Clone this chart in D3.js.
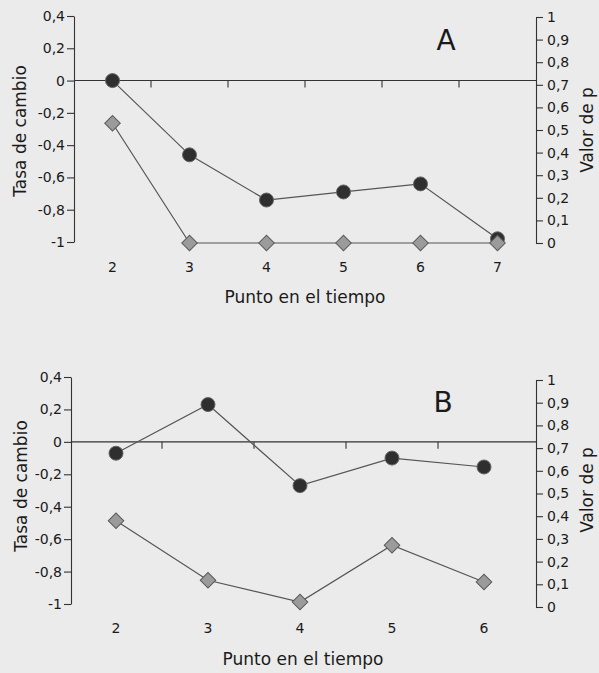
<!DOCTYPE html>
<html>
<head>
<meta charset="utf-8">
<script src="https://cdn.jsdelivr.net/npm/d3@7"></script>
<style>
  body { margin: 0; background: #ebebeb; }
  svg { display: block; }
  text { font-family: "DejaVu Sans", Arial, sans-serif; fill: #1a1a1a; }
</style>
</head>
<body>
<div id="chart"></div>
<script>
// panel A
var pointsA = [2, 3, 4, 5, 6, 7],
    tasaA = [0, -0.46, -0.74, -0.69, -0.64, -0.98],
    pA = [0.53, 0, 0, 0, 0, 0];

// panel B
var pointsB = [2, 3, 4, 5, 6],
    tasaB = [-0.07, 0.23, -0.27, -0.10, -0.155],
    pB = [0.38, 0.118, 0.022, 0.272, 0.11];

var leftTicks = [0.4, 0.2, 0, -0.2, -0.4, -0.6, -0.8, -1],
    rightTicks = [0, 0.1, 0.2, 0.3, 0.4, 0.5, 0.6, 0.7, 0.8, 0.9, 1];

var locale = d3.formatLocale({decimal: ",", thousands: ".", grouping: [3], currency: ["", ""], minus: "-"}),
    fmt = function(d) { return locale.format("~g")(Math.round(d * 10) / 10); };

var svg = d3.select("#chart").append("svg")
    .attr("width", 599)
    .attr("height", 673);

function panel(cfg) {
  var x = d3.scaleBand().domain(cfg.points).range(cfg.xRange),
      yL = d3.scaleLinear().domain([-1, 0.4]).range(cfg.yLRange),
      yR = d3.scaleLinear().domain([0, 1]).range(cfg.yRRange),
      g = svg.append("g");

  // left axis
  var axL = g.append("g")
      .attr("transform", "translate(" + cfg.leftX + ",0)")
      .call(d3.axisLeft(yL).tickValues(leftTicks).tickFormat(fmt).tickSize(7).tickSizeOuter(0).tickPadding(2));
  // right axis
  var axR = g.append("g")
      .attr("transform", "translate(" + cfg.rightX + ",0)")
      .call(d3.axisRight(yR).tickValues(rightTicks).tickFormat(fmt).tickSize(7).tickSizeOuter(0).tickPadding(4));
  [axL, axR].forEach(function(a) {
    a.selectAll("path, line").attr("stroke", "#333").attr("stroke-width", 1.1);
    a.selectAll("text").style("font-size", "14px").attr("fill", "#1a1a1a");
  });

  // zero line with ticks at band boundaries
  var y0 = yL(0);
  g.append("line")
      .attr("x1", cfg.leftX).attr("x2", cfg.rightX)
      .attr("y1", y0).attr("y2", y0)
      .attr("stroke", "#333").attr("stroke-width", 1.1);
  g.selectAll(".xtick")
      .data(cfg.points.slice(1))
      .enter().append("line")
      .attr("x1", function(d) { return x(d); })
      .attr("x2", function(d) { return x(d); })
      .attr("y1", y0).attr("y2", y0 + 7)
      .attr("stroke", "#333").attr("stroke-width", 1.1);

  g.selectAll(".xlabel")
      .data(cfg.points)
      .enter().append("text")
      .attr("x", function(d) { return x(d) + x.bandwidth() / 2; })
      .attr("y", cfg.xLabelY)
      .attr("text-anchor", "middle")
      .style("font-size", "14px")
      .text(function(d) { return d; });

  var cx = function(d, i) { return x(cfg.points[i]) + x.bandwidth() / 2; };

  var lineL = d3.line().x(cx).y(function(d) { return yL(d); }),
      lineR = d3.line().x(cx).y(function(d) { return yR(d); });

  g.append("path").attr("d", lineL(cfg.tasa))
      .attr("fill", "none").attr("stroke", "#555").attr("stroke-width", 1.2);
  g.append("path").attr("d", lineR(cfg.p))
      .attr("fill", "none").attr("stroke", "#555").attr("stroke-width", 1.2);

  g.selectAll(".dot")
      .data(cfg.tasa)
      .enter().append("circle")
      .attr("cx", cx)
      .attr("cy", function(d) { return yL(d); })
      .attr("r", 7)
      .attr("fill", "#2f2f2f")
      .attr("stroke", "#666").attr("stroke-width", 1);

  g.selectAll(".diamond")
      .data(cfg.p)
      .enter().append("path")
      .attr("d", d3.symbol().type(d3.symbolSquare).size(121))
      .attr("transform", function(d, i) { return "translate(" + cx(d, i) + "," + yR(d) + ") rotate(45)"; })
      .attr("fill", "#9b9b9b")
      .attr("stroke", "#5a5a5a").attr("stroke-width", 1);

  // titles
  g.append("text")
      .attr("x", cfg.xTitle[0]).attr("y", cfg.xTitle[1])
      .attr("text-anchor", "middle")
      .style("font-size", "17px")
      .text("Punto en el tiempo");
  g.append("text")
      .attr("transform", "translate(" + cfg.yLTitle[0] + "," + cfg.yLTitle[1] + ") rotate(-90)")
      .attr("text-anchor", "middle")
      .style("font-size", "17px")
      .text("Tasa de cambio");
  g.append("text")
      .attr("transform", "translate(" + cfg.yRTitle[0] + "," + cfg.yRTitle[1] + ") rotate(-90)")
      .attr("text-anchor", "middle")
      .style("font-size", "17px")
      .text("Valor de p");
  g.append("text")
      .attr("x", cfg.letter[0]).attr("y", cfg.letter[1])
      .attr("text-anchor", "middle")
      .style("font-size", "28px")
      .text(cfg.name);
}

panel({
  name: "A", points: pointsA, tasa: tasaA, p: pA,
  xRange: [74, 536], yLRange: [242, 16], yRRange: [243, 17],
  leftX: 74, rightX: 536, xLabelY: 272,
  xTitle: [305, 303], yLTitle: [26, 131], yRTitle: [593, 130], letter: [446, 50]
});

panel({
  name: "B", points: pointsB, tasa: tasaB, p: pB,
  xRange: [70, 530], yLRange: [604, 377], yRRange: [607, 380],
  leftX: 71, rightX: 536, xLabelY: 633,
  xTitle: [303, 665], yLTitle: [27, 486], yRTitle: [593, 490], letter: [443, 412]
});
</script>
</body>
</html>
